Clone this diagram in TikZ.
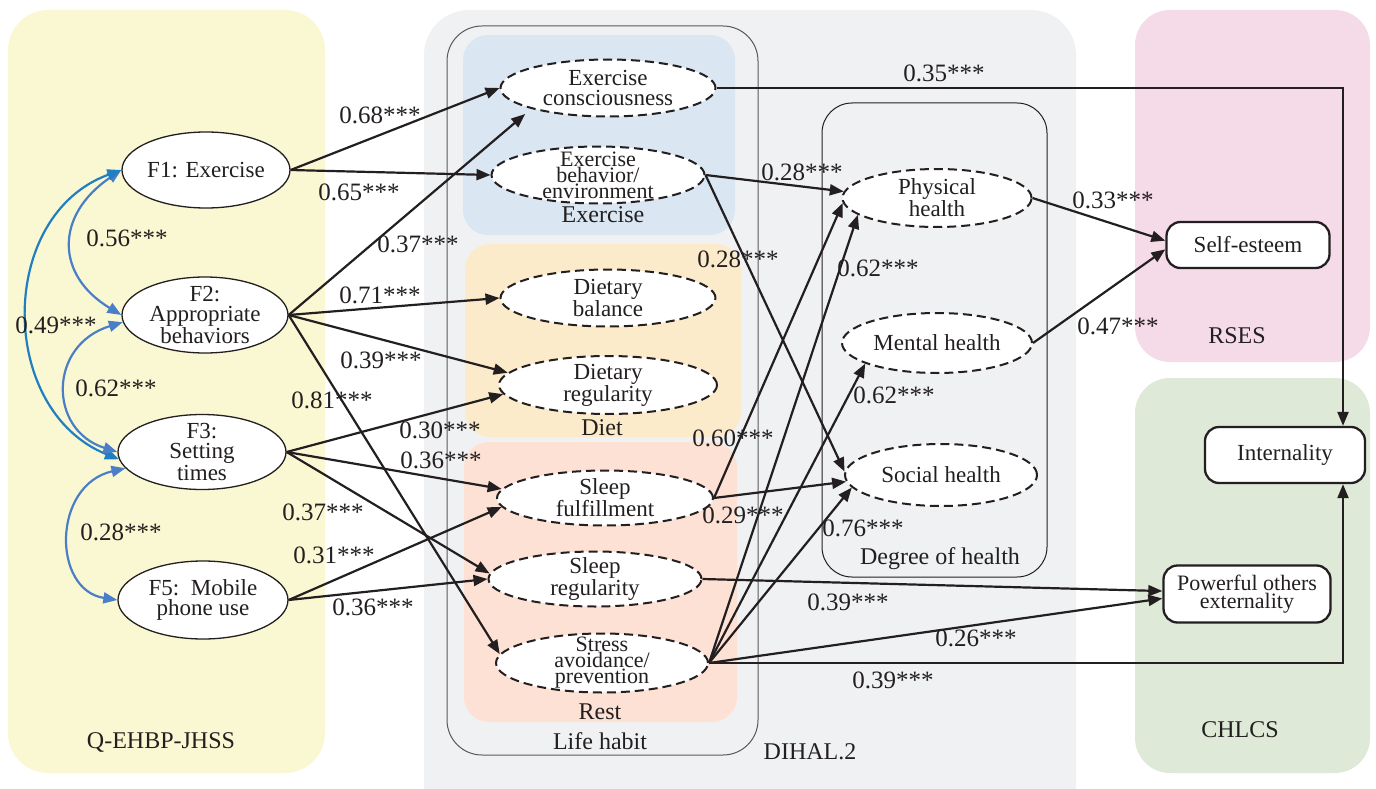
\documentclass[tikz,border=0pt]{standalone}
\usepackage{fontspec}
\setmainfont{Liberation Serif}
\usetikzlibrary{arrows.meta,shapes.geometric,calc}
\definecolor{cyel}{HTML}{FAF8D2}
\definecolor{cgray}{HTML}{F0F1F3}
\definecolor{cblue}{HTML}{DAE6F2}
\definecolor{cdiet}{HTML}{FCEBCB}
\definecolor{crest}{HTML}{FDE1D4}
\definecolor{cpink}{HTML}{F5DBE7}
\definecolor{cgreen}{HTML}{DFE9D8}
\definecolor{ctext}{HTML}{231F20}
\definecolor{cbdark}{HTML}{1F7FC2}
\definecolor{cblight}{HTML}{4A7FC8}
\begin{document}
\begin{tikzpicture}[x=1pt,y=-1pt,
  every node/.style={text=ctext},
  nfont/.style={font=\fontsize{23}{20}\selectfont},
  tight/.style={font=\fontsize{22}{16}\selectfont},
  coef/.style={font=\fontsize{25}{25}\selectfont, inner sep=0pt},
  panel/.style={font=\fontsize{24}{24}\selectfont, inner sep=0pt},
  solidell/.style={ellipse, draw=ctext, line width=1.3pt, fill=white, inner sep=0pt},
  dashell/.style={ellipse, draw=ctext, line width=2pt, dash pattern=on 9pt off 5pt, fill=white, inner sep=0pt},
  rbox/.style={draw=ctext, line width=2.3pt, rounded corners=14pt, fill=white, inner sep=0pt, align=center, nfont},
  txt/.style={align=center, nfont, inner sep=0pt},
  ttxt/.style={align=center, tight, inner sep=0pt},
  conn/.style={draw=ctext, line width=2.2pt, -{Triangle[length=14pt,width=11pt]}},
  bi/.style={line width=2.2pt, {Triangle[length=14pt,width=11pt]}-{Triangle[length=14pt,width=11pt]}},
]
\useasboundingbox (0,0) rectangle (1376,789);
\begin{scope}
\clip (0,0) rectangle (1376,789);
% panels
\fill[cyel, rounded corners=40pt] (8,10) rectangle (325,773);
\fill[cgray, rounded corners=45pt] (424,10) rectangle (1076,830);
\fill[cpink, rounded corners=35pt] (1135,10) rectangle (1370,362);
\fill[cgreen, rounded corners=35pt] (1135,378) rectangle (1370,773);
\fill[cblue, rounded corners=25pt] (463,35) rectangle (735,235);
\fill[cdiet, rounded corners=25pt] (465,244) rectangle (741,437);
\fill[crest, rounded corners=25pt] (464,442) rectangle (737,722);
\end{scope}
\draw[black!65, line width=1pt, rounded corners=35pt] (447,26) rectangle (758,755);
\draw[ctext, line width=1pt, rounded corners=30pt] (822,103) rectangle (1047,577);

% nodes
\node[solidell, minimum width=168pt, minimum height=76pt, label={[txt]center:{F1: Exercise}}] (F1) at (206,170) {};
\node[solidell, minimum width=166pt, minimum height=76pt, label={[txt]center:{F2:\\Appropriate\\behaviors}}] (F2) at (205,315) {};
\node[solidell, minimum width=168pt, minimum height=75pt, label={[txt]center:{F3:\\Setting\\times}}] (F3) at (202,452) {};
\node[solidell, minimum width=170pt, minimum height=78pt, label={[txt]center:{F5:\ \ Mobile\\phone use}}] (F5) at (203,600) {};

\node[dashell, minimum width=215pt, minimum height=57pt, label={[txt]center:{Exercise\\consciousness}}] (EC) at (608,88) {};
\node[dashell, minimum width=213pt, minimum height=57pt, label={[ttxt]center:{Exercise\\behavior/\\environment}}] (EB) at (598,175) {};
\node[dashell, minimum width=215pt, minimum height=57pt, label={[txt]center:{Dietary\\balance}}] (DB) at (608,298) {};
\node[dashell, minimum width=218pt, minimum height=58pt, label={[txt]center:{Dietary\\regularity}}] (DR) at (608,385) {};
\node[dashell, minimum width=216pt, minimum height=55pt, label={[txt]center:{Sleep\\fulfillment}}] (SF) at (605,498) {};
\node[dashell, minimum width=213pt, minimum height=55pt, label={[txt]center:{Sleep\\regularity}}] (SR) at (595,579) {};
\node[dashell, minimum width=212pt, minimum height=59pt, label={[ttxt]center:{Stress\\avoidance/\\prevention}}] (SA) at (602,663) {};
\node[dashell, minimum width=189pt, minimum height=58pt, label={[txt]center:{Physical\\health}}] (PH) at (937,198) {};
\node[dashell, minimum width=190pt, minimum height=60pt, label={[txt]center:{Mental health}}] (MH) at (937,343) {};
\node[dashell, minimum width=192pt, minimum height=62pt, label={[txt]center:{Social health}}] (SH) at (941,475) {};

\node[rbox, minimum width=163pt, minimum height=46pt] (SE) at (1248,245) {Self-esteem};
\node[rbox, minimum width=160pt, minimum height=56pt] (INT) at (1285,455) {Internality};
\node[rbox, minimum width=167pt, minimum height=57pt, font=\fontsize{22}{18}\selectfont] (PO) at (1247,594) {Powerful others\\externality};

% connectors
\draw[conn] (F1.east) -- (EC.west);
\draw[conn] (F1.east) -- (EB.west);
\draw[conn, shorten >=8pt] (F2.east) -- (EC.south west);
\draw[conn] (F2.east) -- (DB.west);
\draw[conn] (F2.east) -- (DR.173);
\draw[conn] (F2.east) -- (SA.175);
\draw[conn] (F3.east) -- (DR.185);
\draw[conn] (F3.east) -- (SF.175);
\draw[conn] (F3.east) -- (SR.177);
\draw[conn] (F5.east) -- (SF.185);
\draw[conn] (F5.east) -- (SR.west);
\draw[conn] (EC.east) -| ([xshift=58pt]INT.north);
\draw[conn] (EB.east) -- (PH.176);
\draw[conn] (EB.east) -- (SH.178);
\draw[conn] (SF.east) -- (PH.183);
\draw[conn] (SF.east) -- (SH.184);
\draw[conn] (SA.east) -- (PH.192);
\draw[conn] (SA.east) -- (MH.196);
\draw[conn] (SA.east) -- (SH.188);
\draw[conn] (SR.east) -- (PO.178);
\draw[conn] (SA.east) -- (PO.183);
\draw[conn] (SA.east) -| ([xshift=58pt]INT.south);
\draw[conn] (PH.east) -- (SE.177);
\draw[conn] (MH.east) -- (SE.183);

% covariances
\draw[bi, cblight] (F1.west) .. controls (55,215) and (55,275) .. (F2.west);
\draw[bi, cbdark] (F1.west) .. controls (-3,215) and (-3,410) .. (F3.185);
\draw[bi, cblight] (F2.185) .. controls (48,345) and (48,430) .. (F3.west);
\draw[bi, cblight] (F3.192) .. controls (52,485) and (52,590) .. (F5.west);

% coefficient labels
\node[coef] (l01) at (380,115) {0.68***};
\node[coef] (l02) at (359,192) {0.65***};
\node[coef] (l03) at (418,244) {0.37***};
\node[coef] (l04) at (380,295) {0.71***};
\node[coef] (l05) at (381,360) {0.39***};
\node[coef] (l06) at (332,400) {0.81***};
\node[coef] (l07) at (440,430) {0.30***};
\node[coef] (l08) at (441,460) {0.36***};
\node[coef] (l09) at (323,512) {0.37***};
\node[coef] (l10) at (334,555) {0.31***};
\node[coef] (l11) at (373,607) {0.36***};
\node[coef] (l12) at (127,238) {0.56***};
\node[coef] (l13) at (56,325) {0.49***};
\node[coef] (l14) at (116,388) {0.62***};
\node[coef] (l15) at (121,532) {0.28***};
\node[coef] (l16) at (944,73) {0.35***};
\node[coef] (l17) at (802,172) {0.28***};
\node[coef] (l18) at (738,259) {0.28***};
\node[coef] (l19) at (878,268) {0.62***};
\node[coef] (l20) at (733,438) {0.60***};
\node[coef] (l21) at (743,515) {0.29***};
\node[coef] (l22) at (894,395) {0.62***};
\node[coef] (l23) at (863,528) {0.76***};
\node[coef] (l24) at (848,602) {0.39***};
\node[coef] (l25) at (976,638) {0.26***};
\node[coef] (l26) at (893,680) {0.39***};
\node[coef] (l27) at (1113,200) {0.33***};
\node[coef] (l28) at (1118,326) {0.47***};

% panel labels
\node[panel] (p1) at (161,742) {Q-EHBP-JHSS};
\node[panel] (p2) at (810,752) {DIHAL.2};
\node[panel] (p3) at (600,741) {Life habit};
\node[panel] (p4) at (603,215) {Exercise};
\node[panel] (p5) at (602,428) {Diet};
\node[panel] (p6) at (600,712) {Rest};
\node[panel] (p7) at (940,559) {Degree of health};
\node[panel] (p8) at (1237,336) {RSES};
\node[panel] (p9) at (1240,730) {CHLCS};
\end{tikzpicture}
\end{document}
